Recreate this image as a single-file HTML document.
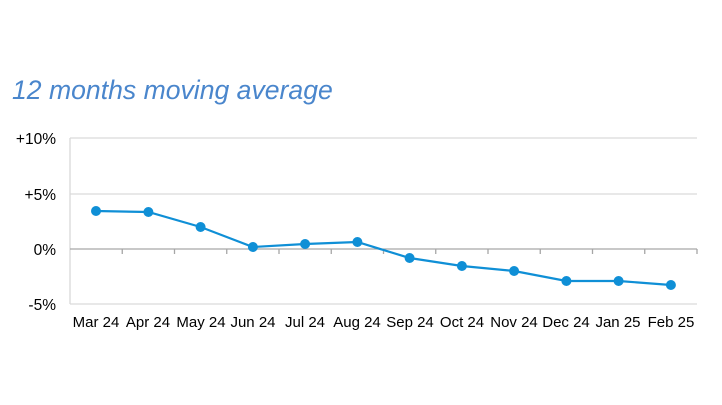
<!DOCTYPE html>
<html><head><style>body{margin:0;background:#fff;width:722px;height:400px;overflow:hidden}</style></head>
<body>
<svg width="722" height="400" xmlns="http://www.w3.org/2000/svg" font-family="Liberation Sans, sans-serif">
<text x="12" y="99" font-size="26.6" font-style="italic" fill="#4a86cc">12 months moving average</text>
<g stroke="#d9d9d9" stroke-width="1.3">
<line x1="70" y1="138" x2="697" y2="138"/>
<line x1="70" y1="194" x2="697" y2="194"/>
<line x1="70" y1="304" x2="697" y2="304"/>
<line x1="70" y1="138" x2="70" y2="304"/>
</g>
<line x1="70" y1="249" x2="697" y2="249" stroke="#a6a6a6" stroke-width="1.3"/>
<g stroke="#a6a6a6" stroke-width="1.3">
<line x1="122.25" y1="249" x2="122.25" y2="254"/><line x1="174.5" y1="249" x2="174.5" y2="254"/>
<line x1="226.75" y1="249" x2="226.75" y2="254"/><line x1="279" y1="249" x2="279" y2="254"/>
<line x1="331.25" y1="249" x2="331.25" y2="254"/><line x1="383.5" y1="249" x2="383.5" y2="254"/>
<line x1="435.75" y1="249" x2="435.75" y2="254"/><line x1="488" y1="249" x2="488" y2="254"/>
<line x1="540.25" y1="249" x2="540.25" y2="254"/><line x1="592.5" y1="249" x2="592.5" y2="254"/>
<line x1="644.75" y1="249" x2="644.75" y2="254"/><line x1="697" y1="249" x2="697" y2="254"/>
</g>
<g font-size="15.5" fill="#000" text-anchor="end">
<text x="56" y="144">+10%</text><text x="56" y="200">+5%</text><text x="56" y="255">0%</text><text x="56" y="310">-5%</text>
</g>
<g font-size="15" fill="#000" text-anchor="middle">
<text x="96" y="327">Mar 24</text><text x="148" y="327">Apr 24</text><text x="201" y="327">May 24</text>
<text x="253" y="327">Jun 24</text><text x="305" y="327">Jul 24</text><text x="357" y="327">Aug 24</text>
<text x="410" y="327">Sep 24</text><text x="462" y="327">Oct 24</text><text x="514" y="327">Nov 24</text>
<text x="566" y="327">Dec 24</text><text x="618" y="327">Jan 25</text><text x="671" y="327">Feb 25</text>
</g>
<polyline fill="none" stroke="#0f8fd6" stroke-width="2.2" points="96,211 148.4,212 200.6,227 252.9,247 305.1,244 357.4,242 409.6,258 461.9,266 514.1,271 566.4,281 618.6,281 670.9,285"/>
<g fill="#0f8fd6">
<circle cx="96" cy="211" r="5"/><circle cx="148.4" cy="212" r="5"/><circle cx="200.6" cy="227" r="5"/>
<circle cx="252.9" cy="247" r="5"/><circle cx="305.1" cy="244" r="5"/><circle cx="357.4" cy="242" r="5"/>
<circle cx="409.6" cy="258" r="5"/><circle cx="461.9" cy="266" r="5"/><circle cx="514.1" cy="271" r="5"/>
<circle cx="566.4" cy="281" r="5"/><circle cx="618.6" cy="281" r="5"/><circle cx="670.9" cy="285" r="5"/>
</g>
</svg>
</body></html>
